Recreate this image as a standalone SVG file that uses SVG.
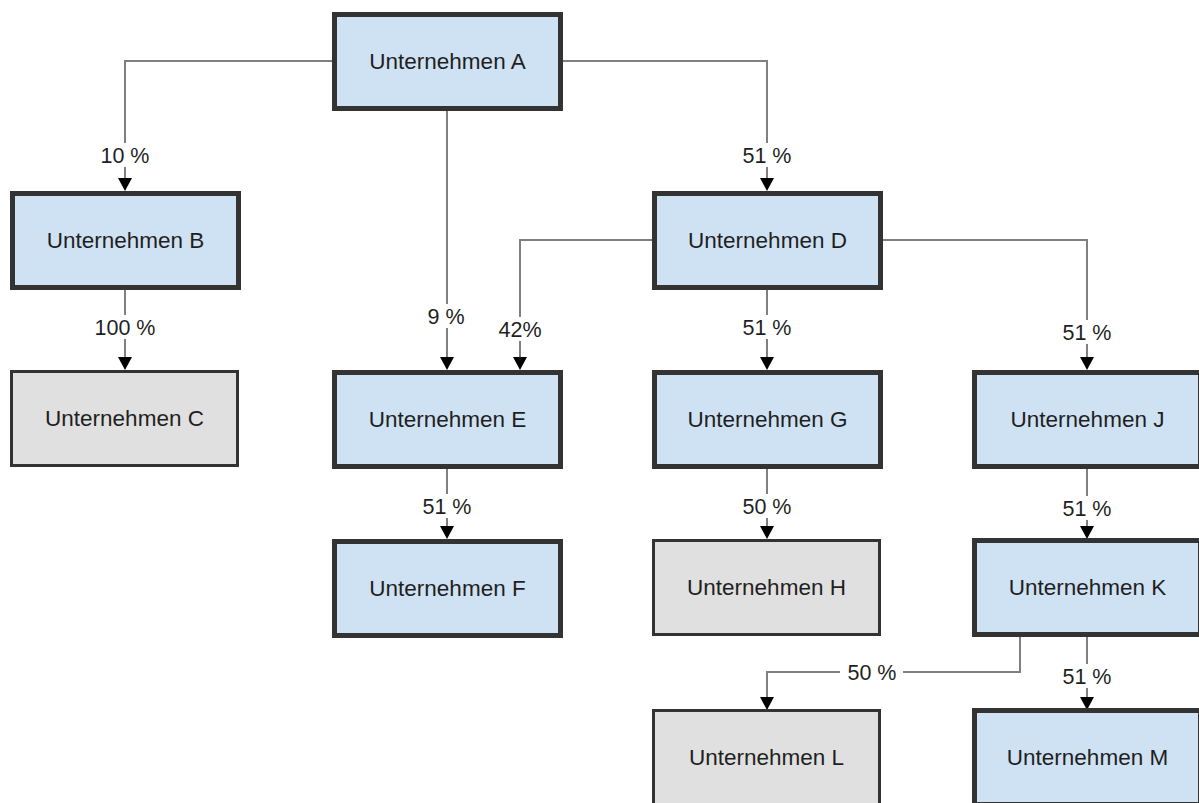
<svg xmlns="http://www.w3.org/2000/svg" width="1199" height="803" viewBox="0 0 1199 803">
<style>
.n rect{stroke:#333333}
.blue rect{fill:#cfe2f3;stroke-width:5}
.gray rect{fill:#e0e0e0;stroke-width:3}
.n text{font-family:"Liberation Sans",Arial,sans-serif;font-size:22.5px;fill:#1f1f1f;text-anchor:middle}
.c path{fill:none;stroke:#808080;stroke-width:2;marker-end:url(#arr)}
.lb rect{fill:#ffffff}
.lb text{font-family:"Liberation Sans",Arial,sans-serif;font-size:21.5px;fill:#1f1f1f;text-anchor:middle}
</style>
<defs>
<marker id="arr" viewBox="0 0 13 14" markerWidth="13" markerHeight="14" refX="0" refY="7" orient="auto" markerUnits="userSpaceOnUse">
<path d="M0,0 L13,7 L0,14 z" fill="#000000"/>
</marker>
</defs>
<rect width="1199" height="803" fill="#ffffff"/>
<g id="connectors" class="c">
<path d="M332,61 H125 V178"/>
<path d="M447,111 V357"/>
<path d="M563,61 H767 V178"/>
<path d="M125,290 V357"/>
<path d="M652,240 H520 V357"/>
<path d="M767,290 V357"/>
<path d="M883,240 H1087 V357"/>
<path d="M447,469 V526"/>
<path d="M767,469 V526"/>
<path d="M1087,469 V526"/>
<path d="M1020,637 V672 H767 V697"/>
<path d="M1087,637 V697"/>
</g>
<g id="labels" class="lb">
<rect x="98" y="143" width="54" height="24"/><text x="125" y="162.5">10 %</text>
<rect x="425" y="304" width="42" height="24"/><text x="446" y="323.5">9 %</text>
<rect x="740" y="143" width="54" height="24"/><text x="767" y="162.5">51 %</text>
<rect x="92" y="315" width="66" height="24"/><text x="125" y="334.5">100 %</text>
<rect x="496" y="317" width="48" height="24"/><text x="520" y="336.5">42%</text>
<rect x="740" y="315" width="54" height="24"/><text x="767" y="334.5">51 %</text>
<rect x="1060" y="320" width="54" height="24"/><text x="1087" y="339.5">51 %</text>
<rect x="420" y="494" width="54" height="24"/><text x="447" y="513.5">51 %</text>
<rect x="740" y="494" width="54" height="24"/><text x="767" y="513.5">50 %</text>
<rect x="1060" y="496" width="54" height="24"/><text x="1087" y="515.5">51 %</text>
<rect x="840" y="660" width="63" height="24"/><text x="872" y="679.5">50 %</text>
<rect x="1060" y="664" width="54" height="24"/><text x="1087" y="683.5">51 %</text>
</g>
<g id="nodeA" class="n blue"><rect x="334.5" y="14.5" width="226" height="94"/><text x="447.5" y="69">Unternehmen A</text></g>
<g id="nodeB" class="n blue"><rect x="12.5" y="193.5" width="226" height="94"/><text x="125.5" y="248">Unternehmen B</text></g>
<g id="nodeC" class="n gray"><rect x="11.5" y="371.5" width="226" height="94"/><text x="124.5" y="426">Unternehmen C</text></g>
<g id="nodeD" class="n blue"><rect x="654.5" y="193.5" width="226" height="94"/><text x="767.5" y="248">Unternehmen D</text></g>
<g id="nodeE" class="n blue"><rect x="334.5" y="372.5" width="226" height="94"/><text x="447.5" y="427">Unternehmen E</text></g>
<g id="nodeG" class="n blue"><rect x="654.5" y="372.5" width="226" height="94"/><text x="767.5" y="427">Unternehmen G</text></g>
<g id="nodeJ" class="n blue"><rect x="974.5" y="372.5" width="226" height="94"/><text x="1087.5" y="427">Unternehmen J</text></g>
<g id="nodeF" class="n blue"><rect x="334.5" y="541.5" width="226" height="94"/><text x="447.5" y="596">Unternehmen F</text></g>
<g id="nodeH" class="n gray"><rect x="653.5" y="540.5" width="226" height="94"/><text x="766.5" y="595">Unternehmen H</text></g>
<g id="nodeK" class="n blue"><rect x="974.5" y="540.5" width="226" height="94"/><text x="1087.5" y="595">Unternehmen K</text></g>
<g id="nodeL" class="n gray"><rect x="653.5" y="710.5" width="226" height="94"/><text x="766.5" y="765">Unternehmen L</text></g>
<g id="nodeM" class="n blue"><rect x="974.5" y="710.5" width="226" height="94"/><text x="1087.5" y="765">Unternehmen M</text></g>
</svg>
